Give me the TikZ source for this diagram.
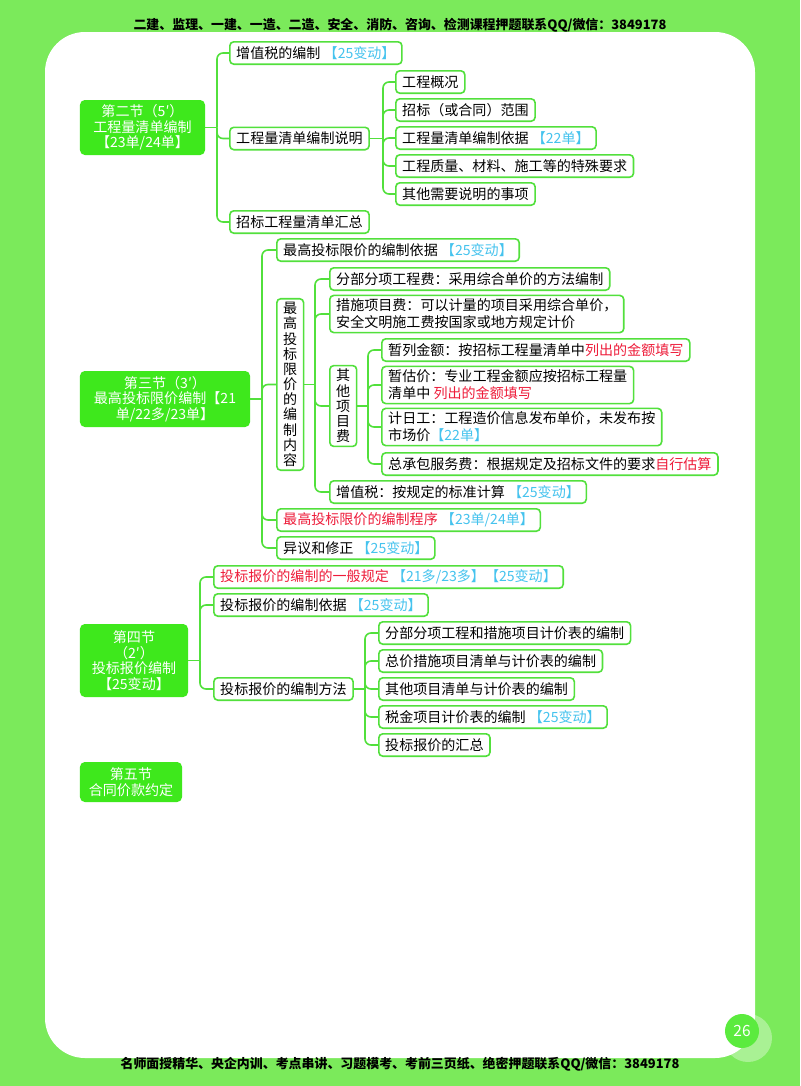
\documentclass[tikz,border=0pt]{standalone}
\usepackage{fontspec}
\setmainfont{Noto Sans CJK SC}
\definecolor{pagegreen}{HTML}{7BEA5B}
\definecolor{rootgreen}{HTML}{3EE81C}
\definecolor{linegreen}{HTML}{52E03C}
\definecolor{tagblue}{HTML}{45C3EE}
\definecolor{keyred}{HTML}{EE1C3A}
\newcommand{\bluetag}[1]{\textcolor{tagblue}{#1}}
\newcommand{\redtxt}[1]{\textcolor{keyred}{#1}}
\begin{document}
\begin{tikzpicture}[x=0.25mm,y=-0.25mm,every node/.style={font=\fontsize{10}{12}\selectfont},
  leaf/.style={draw=linegreen,line width=0.4mm,fill=white,rounded corners=1mm,inner xsep=1.6mm,inner ysep=0.9mm,minimum height=5.6mm,anchor=west,align=left},
  vleaf/.style={leaf,align=center,font=\fontsize{10}{10.8}\selectfont},
  root/.style={fill=rootgreen,rounded corners=1.2mm,text=white,align=center,font=\fontsize{10}{11}\selectfont},
  link/.style={linegreen,line width=0.4mm,rounded corners=1.5mm}]
\useasboundingbox (0,0) rectangle (800,1086);
\fill[pagegreen] (0,0) rectangle (800,1086);
\fill[white,rounded corners=10mm] (45,32) rectangle (755,1058);
\node[font=\fontsize{9.2}{10}\selectfont\bfseries] (head) at (400,25) {二建、监理、一建、一造、二造、安全、消防、咨询、检测课程押题联系QQ/微信：3849178};
\node[font=\fontsize{9.2}{10}\selectfont\bfseries] (foot) at (400,1064) {名师面授精华、央企内训、考点串讲、习题模考、考前三页纸、绝密押题联系QQ/微信：3849178};
\fill[white,opacity=0.35] (748,1038) circle (24);
\fill[rootgreen!85!white] (742,1031) circle (17);
\node[text=white,font=\fontsize{11}{11}\selectfont] (page) at (742,1031) {26};
\node[root,minimum width=31.25mm,minimum height=13.75mm] (s2) at (142.5,127.5) {第二节（5′）\\工程量清单编制\\【23单/24单】};
\node[leaf] (a1) at (229,53) {增值税的编制 \bluetag{【25变动】}};
\node[leaf] (a2) at (229,138.5) {工程量清单编制说明};
\node[leaf] (a3) at (229,222) {招标工程量清单汇总};
\node[leaf] (b1) at (395,82) {工程概况};
\node[leaf] (b2) at (395,110) {招标（或合同）范围};
\node[leaf] (b3) at (395,138) {工程量清单编制依据 \bluetag{【22单】}};
\node[leaf] (b4) at (395,166) {工程质量、材料、施工等的特殊要求};
\node[leaf] (b5) at (395,194) {其他需要说明的事项};
\node[root,minimum width=42.5mm,minimum height=14mm] (s3) at (165,399) {第三节（3′）\\最高投标限价编制【21\\单/22多/23单】};
\node[leaf] (c1) at (276,250) {最高投标限价的编制依据 \bluetag{【25变动】}};
\node[vleaf] (c2) at (276,384.5) {最\\高\\投\\标\\限\\价\\的\\编\\制\\内\\容};
\node[leaf] (c3) at (276,520) {\redtxt{最高投标限价的编制程序} \bluetag{【23单/24单】}};
\node[leaf] (c4) at (276,548) {异议和修正 \bluetag{【25变动】}};
\node[leaf] (d1) at (329,279) {分部分项工程费：采用综合单价的方法编制};
\node[leaf] (d2) at (329,314) {措施项目费：可以计量的项目采用综合单价，\\安全文明施工费按国家或地方规定计价};
\node[vleaf] (d3) at (329,406) {其\\他\\项\\目\\费};
\node[leaf] (d4) at (329,492) {增值税：按规定的标准计算 \bluetag{【25变动】}};
\node[leaf] (e1) at (381,350) {暂列金额：按招标工程量清单中\redtxt{列出的金额填写}};
\node[leaf] (e2) at (381,385) {暂估价：专业工程金额应按招标工程量\\清单中 \redtxt{列出的金额填写}};
\node[leaf] (e3) at (381,427) {计日工：工程造价信息发布单价，未发布按\\市场价\bluetag{【22单】}};
\node[leaf] (e4) at (381,464) {总承包服务费：根据规定及招标文件的要求\redtxt{自行估算}};
\node[root,minimum width=27mm,minimum height=18.25mm] (s4) at (134,660.5) {第四节\\（2′）\\投标报价编制\\【25变动】};
\node[leaf] (f1) at (213,577) {\redtxt{投标报价的编制的一般规定} \bluetag{【21多/23多】【25变动】}};
\node[leaf] (f2) at (213,605) {投标报价的编制依据 \bluetag{【25变动】}};
\node[leaf] (f3) at (213,689) {投标报价的编制方法};
\node[leaf] (g1) at (378,633) {分部分项工程和措施项目计价表的编制};
\node[leaf] (g2) at (378,661) {总价措施项目清单与计价表的编制};
\node[leaf] (g3) at (378,689) {其他项目清单与计价表的编制};
\node[leaf] (g4) at (378,717) {税金项目计价表的编制 \bluetag{【25变动】}};
\node[leaf] (g5) at (378,745) {投标报价的汇总};
\node[root,minimum width=25.5mm,minimum height=10mm] (s5) at (131,782) {第五节\\合同价款约定};
\coordinate (s2t) at (217,127.5);
\coordinate (a2t) at (383,138.5);
\coordinate (s3t) at (262,399);
\coordinate (c2t) at (315,384.5);
\coordinate (d3t) at (368,406);
\coordinate (s4t) at (200,660.5);
\coordinate (f3t) at (365,689);
\draw[link] (s2.east) -- (s2t);
\foreach \c in {a1,a2,a3} \draw[link] (s2t) |- (\c.west);
\draw[link] (a2.east) -- (a2t);
\foreach \c in {b1,b2,b3,b4,b5} \draw[link] (a2t) |- (\c.west);
\draw[link] (s3.east) -- (s3t);
\foreach \c in {c1,c2,c3,c4} \draw[link] (s3t) |- (\c.west);
\draw[link] (c2.east) -- (c2t);
\foreach \c in {d1,d2,d3,d4} \draw[link] (c2t) |- (\c.west);
\draw[link] (d3.east) -- (d3t);
\foreach \c in {e1,e2,e3,e4} \draw[link] (d3t) |- (\c.west);
\draw[link] (s4.east) -- (s4t);
\foreach \c in {f1,f2,f3} \draw[link] (s4t) |- (\c.west);
\draw[link] (f3.east) -- (f3t);
\foreach \c in {g1,g2,g3,g4,g5} \draw[link] (f3t) |- (\c.west);
\end{tikzpicture}
\end{document}
